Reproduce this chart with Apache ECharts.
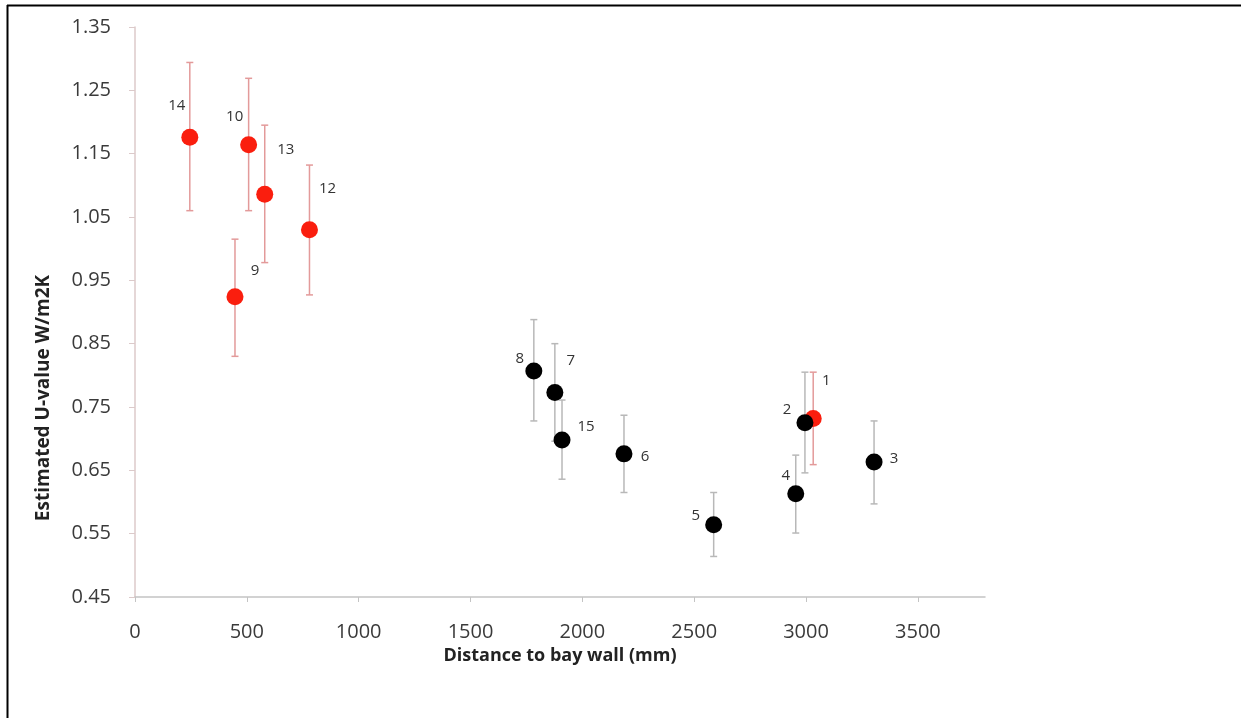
<!DOCTYPE html>
<html>
<head>
<meta charset="utf-8">
<script src="https://cdn.jsdelivr.net/npm/echarts@6/dist/echarts.min.js"></script>
<style>
html,body{margin:0;padding:0;background:#fff;}
#chart{width:1241px;height:718px;}
</style>
</head>
<body>
<div id="chart"></div>
<script>
// ---- data ----
const redIds = ['14', '10', '13', '12', '9', '1'];
const redX   = [245, 508, 580, 780, 447, 3032];
const redY   = [1.176, 1.164, 1.086, 1.030, 0.924, 0.732];
const redHi  = [1.294, 1.269, 1.195, 1.132, 1.015, 0.805];
const redLo  = [1.060, 1.060, 0.978, 0.927, 0.830, 0.659];

const blackIds = ['8', '7', '15', '6', '5', '2', '4', '3'];
const blackX   = [1783, 1877, 1909, 2186, 2587, 2995, 2954, 3304];
const blackY   = [0.807, 0.773, 0.698, 0.676, 0.564, 0.725, 0.613, 0.663];
const blackHi  = [0.888, 0.850, 0.761, 0.737, 0.615, 0.805, 0.674, 0.728];
const blackLo  = [0.728, 0.696, 0.636, 0.615, 0.514, 0.646, 0.551, 0.597];

const xTicks = [0, 500, 1000, 1500, 2000, 2500, 3000, 3500];
const xTitle = 'Distance to bay wall (mm)';
const yTitle = 'Estimated U-value W/m2K';

// ---- style: label offsets (px) relative to marker centre ----
const labelOffset = {
  '14': [-13, -31], '10': [-14, -28], '13': [21, -44], '12': [18, -41], '9': [20, -26], '1': [13, -38],
  '8': [-14, -12], '7': [16, -32], '15': [24, -13], '6': [21, 3], '5': [-18, -9],
  '2': [-18, -13], '4': [-10, -18], '3': [20, -3]
};

const FONT = '"Open Sans", "Liberation Sans", sans-serif';
const RED = '#fa1e0e';
const RED_BAR = '#e39a9a';
const GREY_BAR = '#b8b8b8';

function pts(ids, xs, ys) {
  return ids.map((id, i) => ({
    value: [xs[i], ys[i]],
    name: id,
    label: { offset: labelOffset[id] }
  }));
}
function bars(xs, lo, hi) {
  return xs.map((x, i) => [x, lo[i], hi[i]]);
}
function errRender(color) {
  return function (params, api) {
    const x = api.value(0);
    const p1 = api.coord([x, api.value(1)]);
    const p2 = api.coord([x, api.value(2)]);
    const cw = 3.5;
    const st = { stroke: color, lineWidth: 1.5 };
    return {
      type: 'group',
      children: [
        { type: 'line', shape: { x1: p1[0], y1: p1[1], x2: p2[0], y2: p2[1] }, style: st },
        { type: 'line', shape: { x1: p1[0] - cw, y1: p1[1], x2: p1[0] + cw, y2: p1[1] }, style: st },
        { type: 'line', shape: { x1: p2[0] - cw, y1: p2[1], x2: p2[0] + cw, y2: p2[1] }, style: st }
      ]
    };
  };
}

const labelStyle = {
  show: true,
  position: 'inside',
  formatter: p => p.name,
  color: '#333',
  fontSize: 15,
  fontFamily: FONT
};

const chart = echarts.init(document.getElementById('chart'), null, { renderer: 'canvas' });
chart.setOption({
  animation: false,
  backgroundColor: '#fff',
  grid: { left: 135, right: 256, top: 27, bottom: 121 },
  xAxis: {
    type: 'value',
    min: 0, max: 3800, interval: 500,
    name: xTitle,
    nameLocation: 'middle',
    nameGap: 42,
    nameTextStyle: { fontFamily: FONT, fontWeight: 'bold', fontSize: 18, color: '#222' },
    axisLine: { show: true, lineStyle: { color: '#c4c4c4', width: 1.5 } },
    axisTick: { show: true, length: 5, lineStyle: { color: '#c4c4c4' }, customValues: xTicks },
    axisLabel: { customValues: xTicks, margin: 25, fontFamily: FONT, fontSize: 20, color: '#3a3a3a',
                 formatter: v => String(v) },
    splitLine: { show: false }
  },
  yAxis: {
    type: 'value',
    min: 0.45, max: 1.35, interval: 0.1,
    axisLine: { show: true, lineStyle: { color: '#dccaca', width: 1.5 } },
    axisTick: { show: true, length: 6, lineStyle: { color: '#dccaca' } },
    axisLabel: { margin: 24, fontFamily: FONT, fontSize: 20, color: '#3a3a3a', formatter: v => v.toFixed(2) },
    splitLine: { show: false }
  },
  graphic: [
    { type: 'line', shape: { x1: 7, y1: 5.5, x2: 1241, y2: 5.5 }, style: { stroke: '#000', lineWidth: 2 } },
    { type: 'line', shape: { x1: 7.5, y1: 5, x2: 7.5, y2: 718 }, style: { stroke: '#000', lineWidth: 2 } },
    {
      type: 'text', x: 44, y: 398, rotation: Math.PI / 2,
      style: { text: yTitle, align: 'center', verticalAlign: 'middle',
               font: 'bold 19px ' + FONT, fill: '#222' }
    }
  ],
  series: [
    { type: 'custom', data: bars(redX, redLo, redHi), renderItem: errRender(RED_BAR), z: 1, silent: true },
    { type: 'custom', data: bars(blackX, blackLo, blackHi), renderItem: errRender(GREY_BAR), z: 1, silent: true },
    { type: 'scatter', data: pts(redIds, redX, redY), symbolSize: 17,
      itemStyle: { color: RED, opacity: 1 }, label: labelStyle, z: 3 },
    { type: 'scatter', data: pts(blackIds, blackX, blackY), symbolSize: 17,
      itemStyle: { color: '#000', opacity: 1 }, label: labelStyle, z: 4 }
  ]
});
</script>
</body>
</html>
